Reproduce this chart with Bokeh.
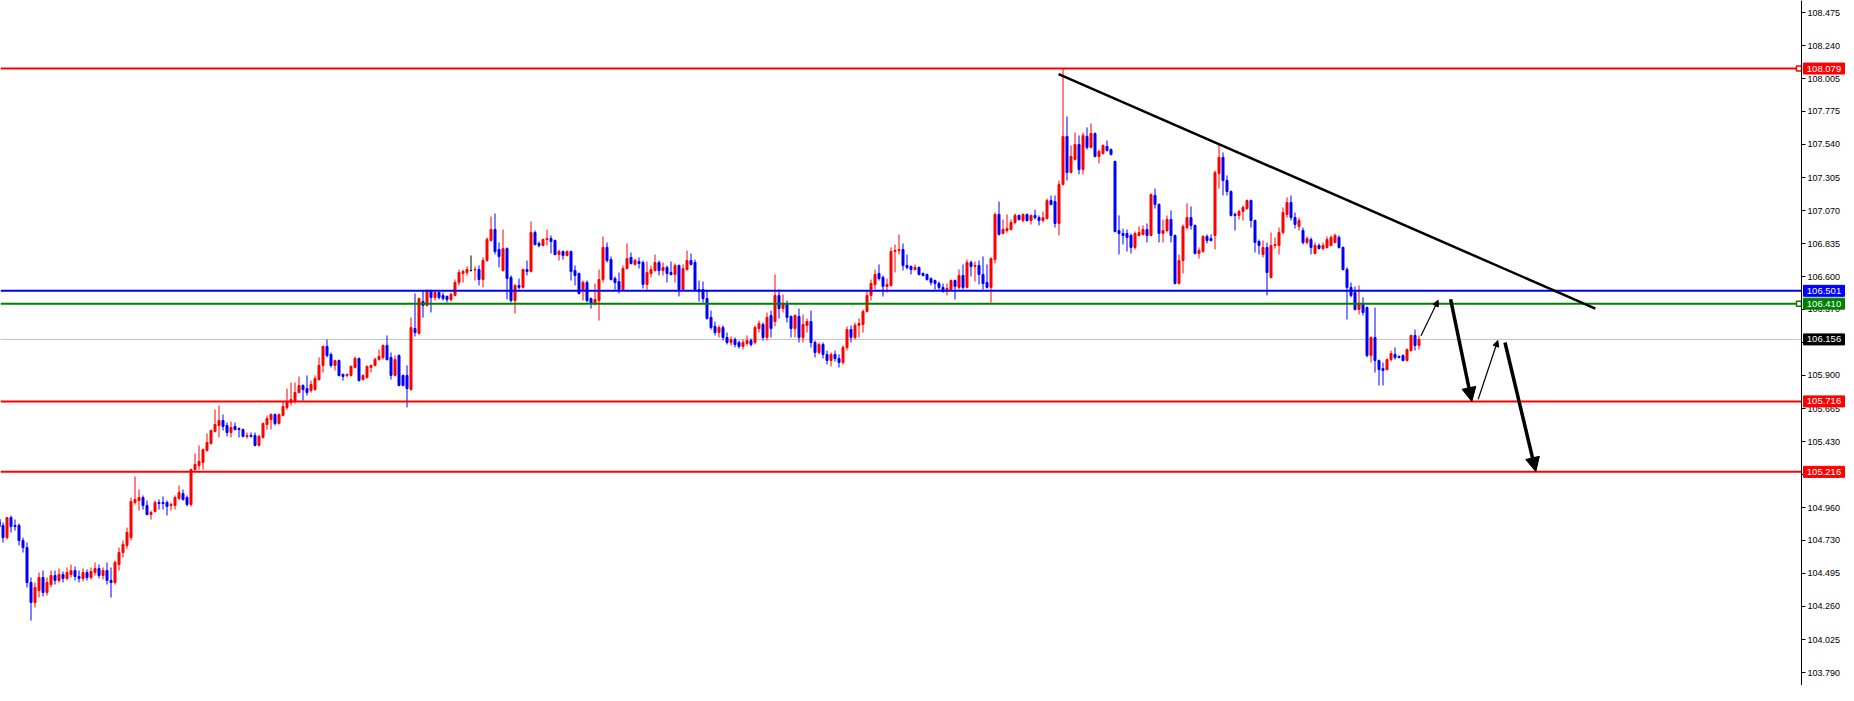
from bokeh.plotting import figure
from bokeh.models import Arrow, NormalHead, FixedTicker, PrintfTickFormatter, Range1d, LinearAxis
from bokeh.core.properties import value
from bokeh.embed import file_html
from bokeh.resources import INLINE

opens = [
104.877, 104.856, 104.835, 104.749, 104.891, 104.835, 104.835, 104.728, 104.678, 104.430,
104.288, 104.373, 104.466, 104.359, 104.416, 104.480, 104.445, 104.487, 104.459, 104.487,
104.515, 104.473, 104.459, 104.501, 104.466, 104.501, 104.530, 104.480, 104.515, 104.445,
104.430, 104.558, 104.643, 104.693, 104.749, 104.998, 105.012, 105.033, 104.977, 104.913,
104.934, 104.998, 104.998, 104.998, 104.977, 104.977, 105.026, 105.062, 105.033, 104.984,
105.232, 105.261, 105.282, 105.367, 105.417, 105.502, 105.545, 105.580, 105.545, 105.495,
105.538, 105.523, 105.516, 105.467, 105.474, 105.474, 105.403, 105.460, 105.552, 105.587,
105.623, 105.559, 105.616, 105.673, 105.708, 105.715, 105.779, 105.829, 105.807, 105.793,
105.800, 105.871, 105.971, 106.106, 106.049, 105.971, 106.006, 105.907, 105.900, 105.900,
105.957, 106.020, 105.871, 105.886, 105.957, 105.971, 106.013, 106.028, 106.113, 106.028,
105.900, 106.042, 105.900, 105.900, 105.800, 106.233, 106.198, 106.425, 106.397, 106.503,
106.453, 106.489, 106.468, 106.461, 106.439, 106.468, 106.560, 106.624, 106.631, 106.645,
106.649, 106.652, 106.581, 106.716, 106.858, 106.936, 106.794, 106.645, 106.801, 106.596,
106.432, 106.539, 106.525, 106.652, 106.638, 106.915, 106.837, 106.823, 106.865, 106.872,
106.858, 106.759, 106.780, 106.752, 106.780, 106.645, 106.624, 106.503, 106.560, 106.446,
106.411, 106.432, 106.581, 106.809, 106.723, 106.588, 106.567, 106.510, 106.659, 106.738,
106.688, 106.709, 106.702, 106.546, 106.624, 106.645, 106.702, 106.645, 106.667, 106.631,
106.617, 106.681, 106.510, 106.652, 106.716, 106.702, 106.510, 106.510, 106.446, 106.312,
106.248, 106.205, 106.240, 106.170, 106.134, 106.155, 106.134, 106.106, 106.127, 106.148,
106.134, 106.233, 106.262, 106.170, 106.326, 106.283, 106.468, 106.375, 106.404, 106.319,
106.233, 106.319, 106.170, 106.255, 106.283, 106.134, 106.063, 106.120, 106.049, 106.006,
106.049, 106.020, 105.992, 106.099, 106.226, 106.170, 106.255, 106.262, 106.354, 106.468,
106.546, 106.624, 106.596, 106.532, 106.539, 106.780, 106.787, 106.794, 106.681, 106.674,
106.652, 106.667, 106.624, 106.617, 106.588, 106.574, 106.553, 106.525, 106.510, 106.510,
106.574, 106.525, 106.610, 106.525, 106.702, 106.674, 106.681, 106.617, 106.560, 106.525,
106.723, 107.043, 106.908, 106.929, 106.936, 106.986, 107.036, 107.000, 107.043, 107.000,
107.036, 107.021, 107.000, 107.014, 107.142, 107.135, 106.979, 107.256, 107.597, 107.341,
107.433, 107.540, 107.362, 107.597, 107.519, 107.618, 107.455, 107.476, 107.526, 107.504,
107.419, 106.929, 106.908, 106.908, 106.894, 106.809, 106.894, 106.901, 106.936, 106.894,
107.178, 107.114, 106.908, 106.929, 107.007, 106.894, 106.553, 106.716, 106.950, 107.021,
106.965, 106.766, 106.780, 106.887, 106.872, 106.894, 107.334, 107.448, 107.284, 107.206,
107.043, 107.036, 107.064, 107.085, 107.142, 107.000, 106.851, 106.759, 106.809, 106.596,
106.823, 106.823, 106.915, 107.043, 107.128, 107.021, 106.958, 106.929, 106.844, 106.865,
106.766, 106.823, 106.801, 106.809, 106.823, 106.844, 106.880, 106.809, 106.652, 106.525,
106.489, 106.368, 106.404, 106.382, 106.042, 106.170, 106.006, 105.949, 105.942, 106.013,
106.049, 106.035, 106.042, 106.006, 106.077, 106.184, 106.113]

highs = [
104.927, 104.891, 104.856, 104.891, 104.906, 104.877, 104.849, 104.749, 104.714, 104.466,
104.430, 104.501, 104.515, 104.466, 104.515, 104.515, 104.530, 104.508, 104.537, 104.558,
104.544, 104.515, 104.530, 104.522, 104.537, 104.572, 104.558, 104.537, 104.572, 104.537,
104.586, 104.678, 104.728, 104.820, 105.033, 105.183, 105.090, 105.048, 105.012, 104.941,
105.012, 105.019, 105.041, 105.012, 104.998, 105.048, 105.119, 105.090, 105.048, 105.239,
105.346, 105.403, 105.381, 105.488, 105.516, 105.658, 105.687, 105.623, 105.566, 105.573,
105.566, 105.531, 105.523, 105.495, 105.495, 105.495, 105.481, 105.566, 105.616, 105.630,
105.630, 105.630, 105.715, 105.807, 105.850, 105.850, 105.893, 105.836, 105.900, 105.864,
105.900, 106.028, 106.113, 106.155, 106.063, 106.013, 106.013, 105.914, 105.914, 105.971,
106.035, 106.028, 105.907, 105.971, 105.978, 106.028, 106.084, 106.120, 106.184, 106.063,
106.042, 106.049, 105.907, 105.971, 106.312, 106.482, 106.453, 106.503, 106.510, 106.510,
106.503, 106.496, 106.489, 106.468, 106.489, 106.581, 106.652, 106.652, 106.674, 106.752,
106.674, 106.681, 106.738, 106.880, 107.029, 107.050, 106.844, 106.936, 106.809, 106.610,
106.546, 106.588, 106.659, 106.716, 106.993, 106.929, 106.851, 106.872, 106.936, 106.894,
106.865, 106.794, 106.787, 106.787, 106.787, 106.681, 106.631, 106.574, 106.574, 106.453,
106.553, 106.652, 106.887, 106.844, 106.745, 106.603, 106.631, 106.681, 106.837, 106.773,
106.730, 106.738, 106.716, 106.709, 106.681, 106.759, 106.716, 106.702, 106.681, 106.709,
106.695, 106.688, 106.688, 106.787, 106.766, 106.723, 106.574, 106.567, 106.503, 106.361,
106.283, 106.255, 106.255, 106.205, 106.177, 106.170, 106.148, 106.155, 106.184, 106.163,
106.255, 106.290, 106.276, 106.347, 106.361, 106.617, 106.510, 106.475, 106.432, 106.326,
106.333, 106.375, 106.333, 106.304, 106.361, 106.148, 106.134, 106.134, 106.077, 106.063,
106.077, 106.049, 106.113, 106.248, 106.255, 106.276, 106.304, 106.368, 106.503, 106.581,
106.652, 106.688, 106.610, 106.588, 106.809, 106.830, 106.901, 106.837, 106.759, 106.681,
106.688, 106.674, 106.631, 106.624, 106.596, 106.581, 106.567, 106.553, 106.553, 106.581,
106.581, 106.652, 106.688, 106.723, 106.716, 106.709, 106.716, 106.745, 106.688, 106.738,
107.057, 107.135, 107.007, 107.043, 107.007, 107.050, 107.043, 107.050, 107.050, 107.043,
107.078, 107.036, 107.064, 107.156, 107.178, 107.178, 107.284, 108.079, 107.739, 107.533,
107.625, 107.604, 107.625, 107.661, 107.689, 107.625, 107.504, 107.540, 107.568, 107.511,
107.426, 107.036, 106.943, 106.936, 106.908, 106.922, 106.958, 106.965, 106.979, 107.192,
107.227, 107.121, 107.007, 107.036, 107.071, 106.901, 106.759, 106.972, 107.121, 107.100,
106.972, 106.809, 106.894, 106.901, 106.901, 107.355, 107.540, 107.483, 107.320, 107.213,
107.057, 107.078, 107.107, 107.149, 107.149, 107.007, 106.865, 106.858, 106.844, 106.915,
106.880, 106.950, 107.093, 107.164, 107.178, 107.057, 107.021, 106.950, 106.887, 106.880,
106.844, 106.837, 106.844, 106.887, 106.894, 106.908, 106.894, 106.816, 106.667, 106.560,
106.532, 106.539, 106.454, 106.390, 106.177, 106.382, 106.013, 105.992, 106.020, 106.077,
106.099, 106.042, 106.049, 106.091, 106.191, 106.226, 106.184]

lows = [
104.835, 104.785, 104.714, 104.735, 104.785, 104.799, 104.693, 104.643, 104.395, 104.160,
104.253, 104.324, 104.331, 104.338, 104.395, 104.416, 104.430, 104.430, 104.445, 104.466,
104.445, 104.430, 104.438, 104.445, 104.452, 104.480, 104.459, 104.452, 104.416, 104.324,
104.416, 104.515, 104.608, 104.671, 104.728, 104.984, 104.941, 104.948, 104.906, 104.877,
104.927, 104.948, 104.948, 104.906, 104.941, 104.948, 105.019, 105.012, 104.970, 104.970,
105.225, 105.232, 105.232, 105.360, 105.410, 105.495, 105.460, 105.509, 105.467, 105.460,
105.509, 105.460, 105.460, 105.452, 105.460, 105.396, 105.396, 105.452, 105.516, 105.516,
105.545, 105.552, 105.609, 105.658, 105.687, 105.701, 105.772, 105.722, 105.758, 105.779,
105.793, 105.864, 105.921, 106.028, 105.957, 105.935, 105.893, 105.864, 105.886, 105.893,
105.949, 105.857, 105.864, 105.878, 105.921, 105.964, 106.006, 106.013, 106.006, 105.871,
105.893, 105.822, 105.822, 105.673, 105.793, 106.177, 106.191, 106.311, 106.390, 106.347,
106.432, 106.439, 106.432, 106.418, 106.425, 106.461, 106.539, 106.560, 106.610, 106.638,
106.574, 106.539, 106.525, 106.709, 106.851, 106.759, 106.667, 106.638, 106.439, 106.418,
106.340, 106.510, 106.517, 106.610, 106.631, 106.823, 106.809, 106.816, 106.823, 106.766,
106.752, 106.716, 106.723, 106.745, 106.574, 106.539, 106.475, 106.432, 106.418, 106.375,
106.397, 106.290, 106.560, 106.702, 106.574, 106.510, 106.482, 106.503, 106.652, 106.688,
106.681, 106.659, 106.517, 106.510, 106.596, 106.638, 106.610, 106.610, 106.560, 106.610,
106.560, 106.461, 106.503, 106.645, 106.681, 106.503, 106.425, 106.418, 106.297, 106.226,
106.184, 106.170, 106.148, 106.120, 106.113, 106.099, 106.091, 106.084, 106.113, 106.106,
106.120, 106.205, 106.148, 106.148, 106.170, 106.248, 106.304, 106.347, 106.276, 106.170,
106.170, 106.134, 106.134, 106.205, 106.099, 106.028, 106.049, 106.020, 105.978, 105.964,
105.999, 105.957, 105.978, 106.077, 106.134, 106.155, 106.170, 106.205, 106.347, 106.432,
106.510, 106.574, 106.461, 106.489, 106.532, 106.631, 106.759, 106.645, 106.652, 106.617,
106.645, 106.610, 106.603, 106.574, 106.539, 106.510, 106.510, 106.489, 106.468, 106.503,
106.439, 106.510, 106.510, 106.517, 106.603, 106.567, 106.546, 106.510, 106.517, 106.418,
106.695, 106.894, 106.901, 106.915, 106.929, 106.972, 107.000, 106.986, 106.993, 106.972,
107.007, 106.965, 106.986, 107.007, 107.107, 106.950, 106.894, 107.249, 107.284, 107.334,
107.426, 107.327, 107.327, 107.504, 107.511, 107.448, 107.405, 107.469, 107.490, 107.462,
106.915, 106.759, 106.830, 106.780, 106.766, 106.794, 106.887, 106.894, 106.844, 106.887,
107.085, 106.844, 106.844, 106.915, 106.844, 106.546, 106.546, 106.624, 106.936, 106.936,
106.759, 106.730, 106.773, 106.837, 106.851, 106.794, 107.227, 107.178, 107.178, 107.029,
106.929, 107.007, 107.000, 107.078, 106.950, 106.773, 106.759, 106.738, 106.468, 106.588,
106.801, 106.759, 106.901, 107.021, 107.000, 106.943, 106.929, 106.830, 106.830, 106.759,
106.759, 106.794, 106.787, 106.801, 106.816, 106.837, 106.801, 106.645, 106.297, 106.454,
106.361, 106.333, 106.326, 106.028, 105.992, 105.921, 105.829, 105.829, 105.935, 105.999,
106.013, 106.020, 105.999, 105.999, 106.070, 106.077, 106.084]

closes = [
104.849, 104.828, 104.749, 104.891, 104.828, 104.828, 104.728, 104.678, 104.430, 104.288,
104.395, 104.466, 104.359, 104.430, 104.480, 104.445, 104.487, 104.459, 104.501, 104.515,
104.473, 104.459, 104.501, 104.466, 104.508, 104.530, 104.480, 104.515, 104.445, 104.430,
104.572, 104.643, 104.700, 104.785, 105.005, 105.019, 105.033, 104.977, 104.913, 104.927,
104.998, 104.991, 104.991, 104.970, 104.984, 105.033, 105.069, 105.019, 104.984, 105.232,
105.268, 105.289, 105.374, 105.424, 105.509, 105.552, 105.580, 105.538, 105.495, 105.531,
105.516, 105.516, 105.467, 105.474, 105.467, 105.403, 105.467, 105.559, 105.594, 105.623,
105.559, 105.623, 105.680, 105.715, 105.729, 105.779, 105.829, 105.800, 105.779, 105.836,
105.878, 105.971, 106.106, 106.042, 105.971, 106.006, 105.900, 105.893, 105.907, 105.964,
106.020, 105.864, 105.900, 105.964, 105.971, 106.013, 106.035, 106.113, 106.013, 105.900,
106.013, 105.829, 105.829, 105.807, 106.240, 106.205, 106.446, 106.397, 106.503, 106.453,
106.489, 106.453, 106.446, 106.439, 106.475, 106.560, 106.631, 106.638, 106.652, 106.645,
106.652, 106.581, 106.716, 106.865, 106.936, 106.780, 106.745, 106.801, 106.589, 106.432,
106.539, 106.525, 106.652, 106.638, 106.915, 106.830, 106.823, 106.865, 106.872, 106.851,
106.759, 106.780, 106.752, 106.780, 106.638, 106.610, 106.482, 106.560, 106.432, 106.411,
106.439, 106.581, 106.809, 106.716, 106.581, 106.560, 106.510, 106.659, 106.730, 106.695,
106.716, 106.695, 106.546, 106.631, 106.652, 106.702, 106.645, 106.667, 106.624, 106.617,
106.681, 106.510, 106.659, 106.716, 106.688, 106.510, 106.496, 106.446, 106.304, 106.240,
106.205, 106.240, 106.170, 106.134, 106.155, 106.120, 106.106, 106.134, 106.148, 106.120,
106.240, 106.269, 106.170, 106.312, 106.233, 106.468, 106.375, 106.411, 106.312, 106.233,
106.326, 106.170, 106.262, 106.283, 106.134, 106.063, 106.120, 106.049, 106.006, 106.049,
106.020, 105.992, 106.099, 106.226, 106.170, 106.255, 106.269, 106.354, 106.468, 106.553,
106.617, 106.588, 106.532, 106.546, 106.780, 106.787, 106.794, 106.681, 106.667, 106.652,
106.667, 106.617, 106.610, 106.581, 106.560, 106.553, 106.525, 106.496, 106.517, 106.574,
106.532, 106.610, 106.525, 106.702, 106.674, 106.681, 106.617, 106.553, 106.525, 106.730,
107.043, 106.901, 106.936, 106.943, 106.986, 107.036, 107.007, 107.043, 107.000, 107.036,
107.021, 107.000, 107.021, 107.142, 107.114, 106.979, 107.256, 107.597, 107.341, 107.455,
107.540, 107.362, 107.604, 107.519, 107.618, 107.455, 107.490, 107.533, 107.497, 107.469,
106.922, 106.908, 106.894, 106.880, 106.809, 106.908, 106.915, 106.936, 106.894, 107.185,
107.114, 106.908, 106.929, 107.007, 106.894, 106.553, 106.716, 106.958, 107.021, 106.965,
106.766, 106.787, 106.887, 106.858, 106.858, 107.341, 107.448, 107.284, 107.206, 107.036,
107.036, 107.064, 107.093, 107.142, 107.000, 106.844, 106.823, 106.809, 106.631, 106.823,
106.830, 106.915, 107.057, 107.128, 107.021, 106.972, 107.000, 106.844, 106.872, 106.809,
106.823, 106.801, 106.823, 106.865, 106.880, 106.894, 106.809, 106.652, 106.525, 106.468,
106.368, 106.411, 106.347, 106.042, 106.170, 106.006, 105.942, 105.935, 106.013, 106.056,
106.028, 106.028, 106.006, 106.084, 106.184, 106.113, 106.156]

# horizontal levels drawn on the chart
level_prices = [108.079, 106.501, 106.410, 105.716, 105.216]
level_colors = ["#FF0000", "#0000FF", "#008000", "#FF0000", "#FF0000"]
marked_levels = [108.079, 106.410]
marked_colors = ["#FF0000", "#008000"]
last_price = 106.156

# price-axis ticks
tick_values = [108.475, 108.240, 108.005, 107.775, 107.540, 107.305, 107.070, 106.835,
               106.600, 106.370, 106.135, 105.900, 105.665, 105.430, 105.195, 104.960,
               104.730, 104.495, 104.260, 104.025, 103.790]

# trend line (bar index, price)
trend_x = [265.9, 400.1]
trend_y = [108.039, 106.375]

# projected path arrows (bar index, price)
arrow_x0 = [356.5, 363.9, 370.8, 377.5]
arrow_y0 = [106.182, 106.441, 105.731, 106.134]
arrow_x1 = [360.8, 369.2, 375.7, 385.2]
arrow_y1 = [106.434, 105.715, 106.148, 105.218]
arrow_thick = [False, True, False, True]

RED = "#FF0000"
BLUE = "#0000FF"
FONT = "Liberation Sans"

n = len(closes)
idx = list(range(n))
colors = [RED if c > o else (BLUE if c < o else "#000000") for o, c in zip(opens, closes)]
tops = [max(o, c) for o, c in zip(opens, closes)]
bots = [min(o, c) for o, c in zip(opens, closes)]

PX = 4.0                      # pixels per bar
x0 = 1.375
axis_x = x0 + 1801 / PX       # position of the price scale
x_end = x0 + 1846 / PX
box_x = x0 + 1823.5 / PX

p = figure(frame_width=1846, frame_height=685,
           x_range=Range1d(x0, x_end), y_range=Range1d(103.699, 108.562),
           output_backend="svg", toolbar_location=None,
           x_axis_location=None, y_axis_location=None,
           min_border_left=0, min_border_top=0, min_border_bottom=0, min_border_right=0)
p.grid.visible = False
p.outline_line_color = None
p.background_fill_color = "white"
p.border_fill_color = "white"

ax = LinearAxis(fixed_location=axis_x)
ax.ticker = FixedTicker(ticks=tick_values)
ax.formatter = PrintfTickFormatter(format="%.3f")
ax.axis_line_color = "black"
ax.axis_line_width = 1
ax.major_tick_in = 0
ax.major_tick_out = 4
ax.major_tick_line_color = "black"
ax.minor_tick_line_color = None
ax.major_label_standoff = 2
ax.major_label_text_font = FONT
ax.major_label_text_font_size = "9px"
ax.major_label_text_color = "black"
p.add_layout(ax, "right")

# last price line (behind candles)
p.segment([x0], [last_price], [axis_x], [last_price], line_color="#C0C0C0",
          line_width=1, level="underlay")

# candles
p.segment(idx, highs, idx, lows, line_color=colors, line_width=1)
p.vbar(x=idx, width=0.5, top=tops, bottom=bots, fill_color=colors, line_color=colors, line_width=1)

# levels
p.segment([x0] * len(level_prices), level_prices, [axis_x] * len(level_prices), level_prices,
          line_color=level_colors, line_width=2)

p.scatter([axis_x - 0.625] * len(marked_levels), marked_levels, marker="square", size=5,
          fill_color="white", line_color=marked_colors, line_width=1.5)

# trend line
p.line(trend_x, trend_y, line_color="black", line_width=2.5)

# arrows
for ax0, ay0, ax1, ay1, thick in zip(arrow_x0, arrow_y0, arrow_x1, arrow_y1, arrow_thick):
    if thick:
        head = NormalHead(size=14, fill_color="black", line_color="black")
        lw = 3.5
    else:
        head = NormalHead(size=6, fill_color="black", line_color="black")
        lw = 1.2
    p.add_layout(Arrow(end=head, x_start=ax0, y_start=ay0, x_end=ax1, y_end=ay1,
                       line_color="black", line_width=lw))

# price boxes on the scale
box_prices = level_prices + [last_price]
box_colors = level_colors + ["#000000"]
box_texts = ["%.3f" % bp for bp in box_prices]
p.rect([box_x] * len(box_prices), box_prices, width=41, height=11,
       width_units="screen", height_units="screen",
       fill_color=box_colors, line_color=box_colors, level="overlay")
p.text([box_x] * len(box_prices), box_prices, text=box_texts, text_color="white",
       text_font=value(FONT), text_font_size="9.5px",
       text_align="center", text_baseline="middle", level="overlay")

open("out.html", "w").write(file_html(p, INLINE))
